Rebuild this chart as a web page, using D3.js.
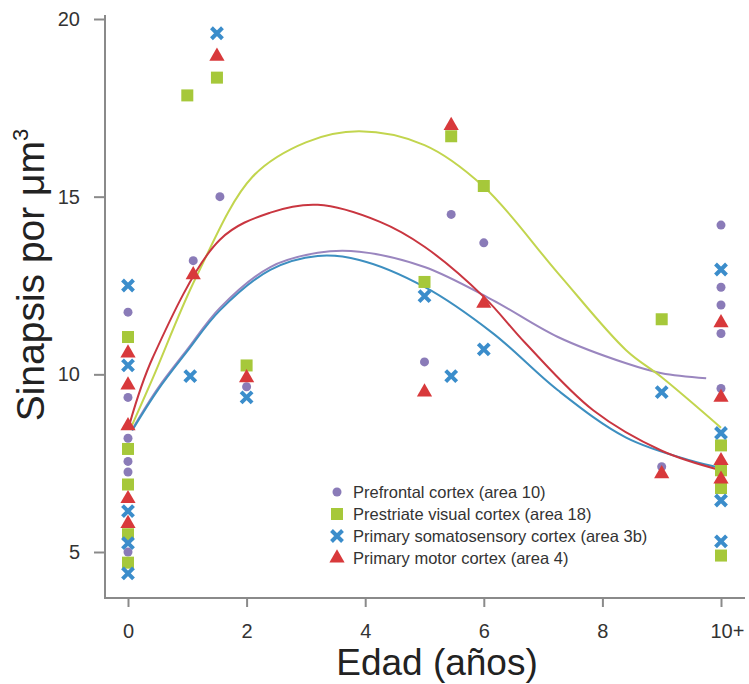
<!DOCTYPE html>
<html>
<head>
<meta charset="utf-8">
<script src="https://cdn.jsdelivr.net/npm/d3@7"></script>
<style>
  body { margin: 0; background: #fff; }
  svg { display: block; font-family: "Liberation Sans", Arial, sans-serif; }
</style>
</head>
<body>
<svg id="chart" width="749" height="684"></svg>
<script>
// tick labels
var xTicks = [0, 2, 4, 6, 8, 10];
var xTickLabels = ["0", "2", "4", "6", "8", "10+"];
var yTicks = [5, 10, 15, 20];

// measured points, [age, synapses per um3]
var prefrontal = [[0,11.75],[0,9.35],[0,8.2],[0,7.55],[0,7.25],[0,5.0],[1.1,13.2],[1.55,15.0],[2,9.65],
  [5,10.35],[5.45,14.5],[6,13.7],[9,7.4],[10,14.2],[10,12.45],[10,11.95],[10,11.15],[10,9.6]];
var prestriate = [[0,11.05],[0,7.9],[0,6.9],[0,5.5],[0,4.7],[1,17.85],[1.5,18.35],[2,10.25],
  [5,12.6],[5.45,16.7],[6,15.3],[9,11.55],[10,8.0],[10,7.3],[10,6.8],[10,4.9]];
var somato = [[0,12.5],[0,10.25],[0,6.15],[0,5.25],[0,4.4],[1.05,9.95],[1.5,19.6],[2,9.35],
  [5,12.2],[5.45,9.95],[6,10.7],[9,9.5],[10,12.95],[10,8.35],[10,6.45],[10,5.3]];
var motor = [[0,10.6],[0,9.7],[0,8.55],[0,6.5],[0,5.8],[1.1,12.8],[1.5,18.95],[2,9.9],
  [5,9.5],[5.45,17.0],[6,12.0],[9,7.2],[10,11.45],[10,9.35],[10,7.57],[10,7.05]];

// fitted curves
var prefrontalFit = [[0.07,8.45],[0.5,9.6],[1,10.7],[1.55,11.87],[2.4,13.02],[3.2,13.42],[3.9,13.45],
  [5,13.02],[6.15,12.09],[7.25,11.05],[8.4,10.31],[9,10.03],[9.75,9.89]];
var prestriateFit = [[0.05,8.5],[0.42,9.9],[1.15,12.74],[2.1,15.56],[3,16.53],[3.9,16.84],[5,16.45],
  [6,15.28],[7.25,12.85],[8.4,10.68],[9,9.92],[10,8.5]];
var somatoFit = [[0.07,8.42],[0.5,9.55],[1,10.65],[1.55,11.8],[2.4,12.94],[3.2,13.33],[3.9,13.22],
  [5,12.46],[6.15,11.16],[7.25,9.55],[8.4,8.22],[9.5,7.57],[10,7.37]];
var motorFit = [[0.03,8.62],[0.42,10.48],[1.55,13.79],[2.4,14.55],[3.2,14.77],[4.25,14.29],[5,13.59],
  [6,12.18],[6.7,10.88],[7.85,8.98],[9,7.85],[10,7.3]];

var legendLabels = ["Prefrontal cortex (area 10)", "Prestriate visual cortex (area 18)",
  "Primary somatosensory cortex (area 3b)", "Primary motor cortex (area 4)"];

var series = [
  {pts: prefrontal, fit: prefrontalFit, shape: "circle", color: "#8a7bb8", line: "#9a86bf"},
  {pts: prestriate, fit: prestriateFit, shape: "square", color: "#a6c83a", line: "#c2d54e"},
  {pts: somato, fit: somatoFit, shape: "x", color: "#3b8dcb", line: "#3d8fc0"},
  {pts: motor, fit: motorFit, shape: "triangle", color: "#d8393b", line: "#c93640"}
];

var svg = d3.select("#chart");
var left = 105, bottom = 598;

var x = d3.scaleLinear().domain([0, 10]).range([128, 721]);
var y = d3.scaleLinear().domain([5, 20]).range([552, 19]);

// axis lines
svg.append("path")
  .attr("d", "M" + left + ",15V" + bottom + "H745")
  .attr("fill", "none").attr("stroke", "#8a8a8a").attr("stroke-width", 2);

var yAxis = svg.append("g")
  .attr("transform", "translate(" + left + ",0)")
  .call(d3.axisLeft(y).tickValues(yTicks).tickSize(11).tickPadding(14));
var xAxis = svg.append("g")
  .attr("transform", "translate(0," + bottom + ")")
  .call(d3.axisBottom(x).tickValues(xTicks).tickSize(9).tickPadding(17)
    .tickFormat(function(d, i) { return xTickLabels[i]; }));

[yAxis, xAxis].forEach(function(a) {
  a.select(".domain").remove();
  a.selectAll(".tick line").attr("stroke", "#8a8a8a").attr("stroke-width", 2);
  a.selectAll(".tick text").attr("fill", "#333").style("font-size", "20px")
    .style("font-family", "Liberation Sans, Arial, sans-serif");
});
// "10+" keeps the "10" centred on its tick
xAxis.selectAll(".tick text").filter(function(d) { return d === 10; })
  .attr("text-anchor", "start").attr("dx", "-11");

// axis titles
svg.append("text")
  .attr("x", 437).attr("y", 675)
  .attr("text-anchor", "middle")
  .style("font-size", "37px").attr("fill", "#222")
  .text("Edad (años)");

var yt = svg.append("text")
  .attr("transform", "translate(44,275) rotate(-90)")
  .attr("text-anchor", "middle")
  .style("font-size", "39px").attr("fill", "#222");
yt.append("tspan").text("Sinapsis por μm");
yt.append("tspan").attr("dy", "-16").style("font-size", "22px").text("3");

// fitted curves
var line = d3.line()
  .x(function(d) { return x(d[0]); })
  .y(function(d) { return y(d[1]); })
  .curve(d3.curveCatmullRom.alpha(0.5));

series.forEach(function(s) {
  svg.append("path")
    .datum(s.fit)
    .attr("d", line)
    .attr("fill", "none")
    .attr("stroke", s.line)
    .attr("stroke-width", 2);
});

function marker(g, shape, color) {
  if (shape === "circle") {
    g.append("circle").attr("r", 4.5).attr("fill", color);
  } else if (shape === "square") {
    g.append("rect").attr("x", -6).attr("y", -6).attr("width", 12).attr("height", 12).attr("fill", color);
  } else if (shape === "triangle") {
    g.append("path").attr("d", d3.symbol().type(d3.symbolTriangle).size(100)).attr("fill", color);
  } else {
    g.append("path").attr("d", "M-5.5,-5.5L5.5,5.5M5.5,-5.5L-5.5,5.5")
      .attr("stroke", color).attr("stroke-width", 4).attr("fill", "none");
  }
}

series.forEach(function(s) {
  s.pts.forEach(function(p) {
    var g = svg.append("g").attr("transform", "translate(" + x(p[0]) + "," + y(p[1]) + ")");
    marker(g, s.shape, s.color);
  });
});

// legend
var legend = svg.append("g").attr("transform", "translate(337,492)");
series.forEach(function(s, i) {
  var row = legend.append("g").attr("transform", "translate(0," + (i * 22) + ")");
  var m = row.append("g");
  marker(m, s.shape, s.color);
  row.append("text")
    .attr("x", 16).attr("dy", "0.35em")
    .style("font-size", "16.5px").attr("fill", "#333")
    .text(legendLabels[i]);
});
</script>
</body>
</html>
